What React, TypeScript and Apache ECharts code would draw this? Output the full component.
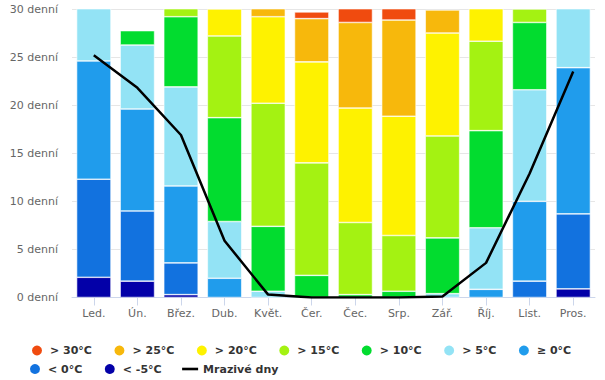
import React, { useEffect, useRef } from 'react';
import * as echarts from 'echarts';

const months = ['Led.', 'Ún.', 'Břez.', 'Dub.', 'Květ.', 'Čer.', 'Čec.', 'Srp.', 'Zář.', 'Říj.', 'List.', 'Pros.'];

// stacked from bottom to top
const bandNames = ['< -5°C', '< 0°C', '≥ 0°C', '> 5°C', '> 10°C', '> 15°C', '> 20°C', '> 25°C', '> 30°C'];
const bandColors = ['#0300a8', '#1272df', '#209cec', '#93e3f5', '#02dc2f', '#a4f212', '#fef200', '#f7b80c', '#f04b0f'];

const belowMinus5 = [2.1, 1.7, 0.3, 0, 0, 0, 0, 0, 0, 0, 0, 0.9];
const below0 = [10.2, 7.3, 3.3, 0, 0, 0, 0, 0, 0, 0, 1.7, 7.8];
const above0 = [12.3, 10.6, 8.0, 2.0, 0, 0, 0, 0, 0, 0.85, 8.3, 15.2];
const above5 = [6.4, 6.65, 10.3, 5.9, 0.65, 0, 0, 0, 0.4, 6.4, 11.6, 7.1];
const above10 = [0, 1.5, 7.3, 10.8, 6.75, 2.3, 0.3, 0.65, 5.8, 10.1, 7.0, 0];
const above15 = [0, 0, 1.8, 8.5, 12.8, 11.7, 7.5, 5.8, 10.6, 9.3, 1.4, 0];
const above20 = [0, 0, 0, 2.8, 9.0, 10.5, 11.9, 12.4, 10.7, 4.4, 0, 0];
const above25 = [0, 0, 0, 0, 1.8, 4.5, 8.9, 10.0, 2.4, 0, 0, 0];
const above30 = [0, 0, 0, 0, 0, 0.7, 2.4, 2.2, 0, 0, 0, 0];

const frostDays = [25.2, 21.8, 16.9, 5.9, 0.3, 0, 0, 0, 0.1, 3.6, 12.9, 23.5];
const frostName = 'Mrazivé dny';

const bandData = [belowMinus5, below0, above0, above5, above10, above15, above20, above25, above30];

const legendRow1 = ['> 30°C', '> 25°C', '> 20°C', '> 15°C', '> 10°C', '> 5°C', '≥ 0°C'];
const legendRow2 = ['< 0°C', '< -5°C', frostName];

const FONT = 'DejaVu Sans';

export default function App() {
  const ref = useRef<HTMLDivElement>(null);
  useEffect(() => {
    document.body.style.margin = '0';
    const chart = echarts.init(ref.current!, null, { renderer: 'svg' });
    const barSeries = bandNames.map((name, i) => ({
      name,
      type: 'bar',
      stack: 'days',
      barWidth: '79%',
      clip: true,
      data: bandData[i].map((v) => (v === 0 ? null : v)),
      itemStyle: { color: bandColors[i], borderColor: '#ffffff', borderWidth: 0.6 },
      emphasis: { disabled: true },
    }));
    const legendCommon = {
      orient: 'horizontal',
      padding: 0,
      itemGap: 20.5,
      itemWidth: 16,
      itemHeight: 12,
      symbolKeepAspect: true,
      selectedMode: false,
      textStyle: { fontFamily: FONT, fontSize: 11, fontWeight: 'bold', color: '#333333' },
    };
    chart.setOption({
      animation: false,
      textStyle: { fontFamily: FONT },
      grid: { left: 72, right: 10, top: 9, bottom: 82.5, containLabel: false },
      legend: [
        {
          ...legendCommon,
          left: 30,
          top: 343.5,
          data: legendRow1.map((n) => ({ name: n, icon: 'circle' })),
        },
        {
          ...legendCommon,
          left: 28,
          top: 362,
          data: legendRow2.map((n) =>
            n === frostName
              ? { name: n, icon: 'path://M0 0H16V2.6H0Z', itemStyle: { color: '#000000' } }
              : { name: n, icon: 'circle' }
          ),
        },
      ],
      xAxis: {
        type: 'category',
        data: months,
        axisLine: { show: true, lineStyle: { color: '#ccd6eb' } },
        axisTick: { show: true, alignWithLabel: true, length: 8, lineStyle: { color: '#ccd6eb' } },
        axisLabel: { fontFamily: FONT, fontSize: 11, color: '#666666', margin: 10 },
        splitLine: { show: false },
      },
      yAxis: {
        type: 'value',
        min: 0,
        max: 30,
        interval: 5,
        axisLine: { show: false },
        axisTick: { show: false },
        axisLabel: { fontFamily: FONT, fontSize: 11, color: '#666666', margin: 14, formatter: '{value} denní' },
        splitLine: { lineStyle: { color: '#e6e6e6', width: 1 } },
      },
      series: [
        ...barSeries,
        {
          name: frostName,
          type: 'line',
          data: frostDays,
          symbol: 'none',
          showSymbol: false,
          z: 10,
          lineStyle: { color: '#000000', width: 2.5 },
          itemStyle: { color: '#000000' },
          emphasis: { disabled: true },
        },
      ],
    });
    return () => chart.dispose();
  }, []);
  return <div ref={ref} style={{ position: 'absolute', left: 0, top: 0, width: 605, height: 380 }} />;
}
